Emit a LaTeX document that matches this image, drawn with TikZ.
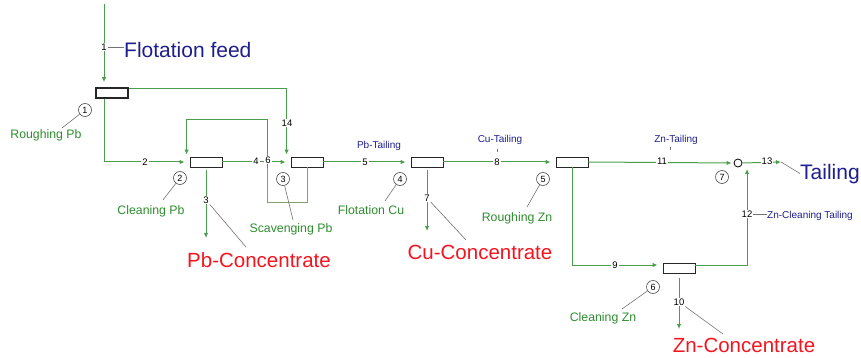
\documentclass[tikz,border=0pt]{standalone}
\usepackage{fontspec}
\setmainfont{Liberation Sans}
\usetikzlibrary{arrows.meta,calc}
\definecolor{lgreen}{RGB}{75,158,75}
\definecolor{sgreen}{RGB}{130,160,120}
\definecolor{tgreen}{RGB}{45,140,45}
\definecolor{navy}{RGB}{30,30,140}
\definecolor{cred}{RGB}{245,20,30}
\begin{document}
\begin{tikzpicture}[x=1pt,y=-1pt,
  cell/.style={draw=black!85, line width=0.8pt, minimum width=32pt, minimum height=10pt, inner sep=0pt, fill=white},
  flow/.style={draw=lgreen, line width=1pt},
  scav/.style={draw=sgreen, line width=1pt},
  arr/.style={-{Latex[length=5pt,width=4.5pt]}, shorten >=5pt},
  num/.style={font=\fontsize{9.5}{10}\selectfont, fill=white, inner sep=1pt},
  unit/.style={circle, draw=black!70, line width=0.6pt, minimum size=13pt, inner sep=0pt, font=\fontsize{9}{9}\selectfont},
  gtxt/.style={text=tgreen, font=\fontsize{12.3}{13}\selectfont, inner sep=0pt, anchor=base},
  btxt/.style={text=navy, font=\fontsize{10}{11}\selectfont, inner sep=0pt, anchor=base},
  bigb/.style={text=navy, font=\fontsize{21}{22}\selectfont, inner sep=0pt},
  bigr/.style={text=cred, font=\fontsize{20.5}{22}\selectfont, inner sep=0pt, anchor=base},
  lead/.style={draw=black!55, line width=0.6pt}]
\useasboundingbox (0,0) rectangle (861,358);

% cells
\node[cell, line width=1.6pt] (c1) at (112,93) {};
\node[cell] (c2) at (206,162) {};
\node[cell] (c3) at (307,162) {};
\node[cell] (c4) at (427,162) {};
\node[cell] (c5) at (572,162) {};
\node[cell] (c6) at (679,268) {};
\node[circle, draw=black, line width=0.8pt, minimum size=8pt, inner sep=0pt] (n7) at (738,163) {};

% coordinates
\coordinate (feed) at (104,4);
\coordinate (p3) at (206,238);
\coordinate (p7) at (427,231);
\coordinate (p10) at (679,329);
\coordinate (p13) at (781,162);
\coordinate (t12) at (747,169);
\coordinate (loopTR) at (267,120);
\coordinate (loopBL) at (267,202);
\coordinate (x6) at (267,168);

% streams
\draw[flow,arr] (feed) -- (feed |- c1.north);
\draw[flow,arr,shorten >=2pt] ([yshift=4pt]c1.east) -| ([xshift=-4pt]c3.north west);
\draw[flow,arr] (c1.south -| feed) |- (c2.west);
\draw[scav] (c3.south) |- (loopBL) -- (x6);
\draw[flow,arr,shorten >=2pt] (x6) -- (loopTR) -| ([xshift=-3pt]c2.north west);
\draw[flow,arr] (c2.east) -- (c3.west);
\draw[flow,arr,shorten >=0pt] ([yshift=-3pt]c2.south) -- (p3);
\draw[flow,arr] (c3.east) -- (c4.west);
\draw[flow,arr,shorten >=0pt] ([yshift=-3pt]c4.south) -- (p7);
\draw[flow,arr] (c4.east) -- (c5.west);
\draw[flow,arr] (c5.south) |- ([yshift=3pt]c6.west);
\draw[flow,arr,shorten >=0pt] ([yshift=-5pt]c6.south) -- (p10);
\draw[flow,arr,shorten >=2pt] (c5.east) -- (n7.west);
\draw[flow,arr,shorten >=0pt] ([yshift=3pt]c6.east) -| (t12);
\draw[flow,arr,shorten >=0pt] (n7.east) -- (p13);

% stream numbers
\node[num] (s1) at (104,47) {1};
\node[num] (s14) at (287,123) {14};
\node[num] (s2) at (145,162) {2};
\node[num] (s4) at (256,161) {4};
\node[num] (s6) at (268,160) {6};
\node[num] (s3) at (206,200) {3};
\node[num] (s5) at (365,162) {5};
\node[num] (s7) at (427,198) {7};
\node[num] (s8) at (497,162) {8};
\node[num] (s9) at (615,265) {9};
\node[num] (s11) at (662,161) {11};
\node[num] (s13) at (767,161) {13};
\node[num] (s12) at (747,214) {12};
\node[num] (s10) at (679,302) {10};

% main texts
\node[bigb, anchor=base west] (tfeed) at (124,58) {Flotation feed};
\draw[lead] (s1.east) -- (tfeed.west |- s1.east);
\node[bigb, anchor=base west] (ttail) at (800,179) {Tailing};
\draw[lead] (p13) -- (ttail.west);
\node[bigr] (tpb) at (259,267) {Pb-Concentrate};
\node[bigr] (tcu) at (480,259) {Cu-Concentrate};
\node[bigr] (tzn) at (744,352) {Zn-Concentrate};
\coordinate (lpb) at (246,247);
\coordinate (lcu) at (466,240);
\coordinate (lzn) at (723,334);
\draw[lead] (s3) -- (lpb);
\draw[lead] (s7) -- (lcu);
\draw[lead] (s10) -- (lzn);

% tailing labels
\node[btxt] (tpbt) at (379,149) {Pb-Tailing};
\node[btxt] (tcut) at (500,143) {Cu-Tailing};
\node[btxt] (tznt) at (676,143) {Zn-Tailing};
\node[btxt, anchor=base west] (tznc) at (767,218) {Zn-Cleaning Tailing};
\draw[lead] (s12.east) -- (tznc.west |- s12.east);
\draw[lead] (497,149) -- (497,152);
\draw[lead] (670,147) -- (670,150);

% unit labels
\node[unit] (u1) at (85,110) {1};
\node[unit] (u2) at (180,178) {2};
\node[unit] (u3) at (283,179) {3};
\node[unit] (u4) at (400,179) {4};
\node[unit] (u5) at (543,179) {5};
\node[unit] (u6) at (653,287) {6};
\node[unit] (u7) at (722,177) {7};
\coordinate (l1) at (62,128);
\coordinate (l2) at (163,200);
\coordinate (l3) at (293,220);
\coordinate (l4) at (385,201);
\coordinate (l5) at (527,207);
\coordinate (l6) at (622,309);
\draw[lead] (u1) -- (l1);
\draw[lead] (u2) -- (l2);
\draw[lead] (u3) -- (l3);
\draw[lead] (u4) -- (l4);
\draw[lead] (u5) -- (l5);
\draw[lead] (u6) -- (l6);
\node[gtxt] (g1) at (46,139) {Roughing Pb};
\node[gtxt] (g2) at (151,214) {Cleaning Pb};
\node[gtxt] (g3) at (291,232) {Scavenging Pb};
\node[gtxt] (g4) at (371,214) {Flotation Cu};
\node[gtxt] (g5) at (517,221) {Roughing Zn};
\node[gtxt] (g6) at (603,321) {Cleaning Zn};
\end{tikzpicture}
\end{document}
